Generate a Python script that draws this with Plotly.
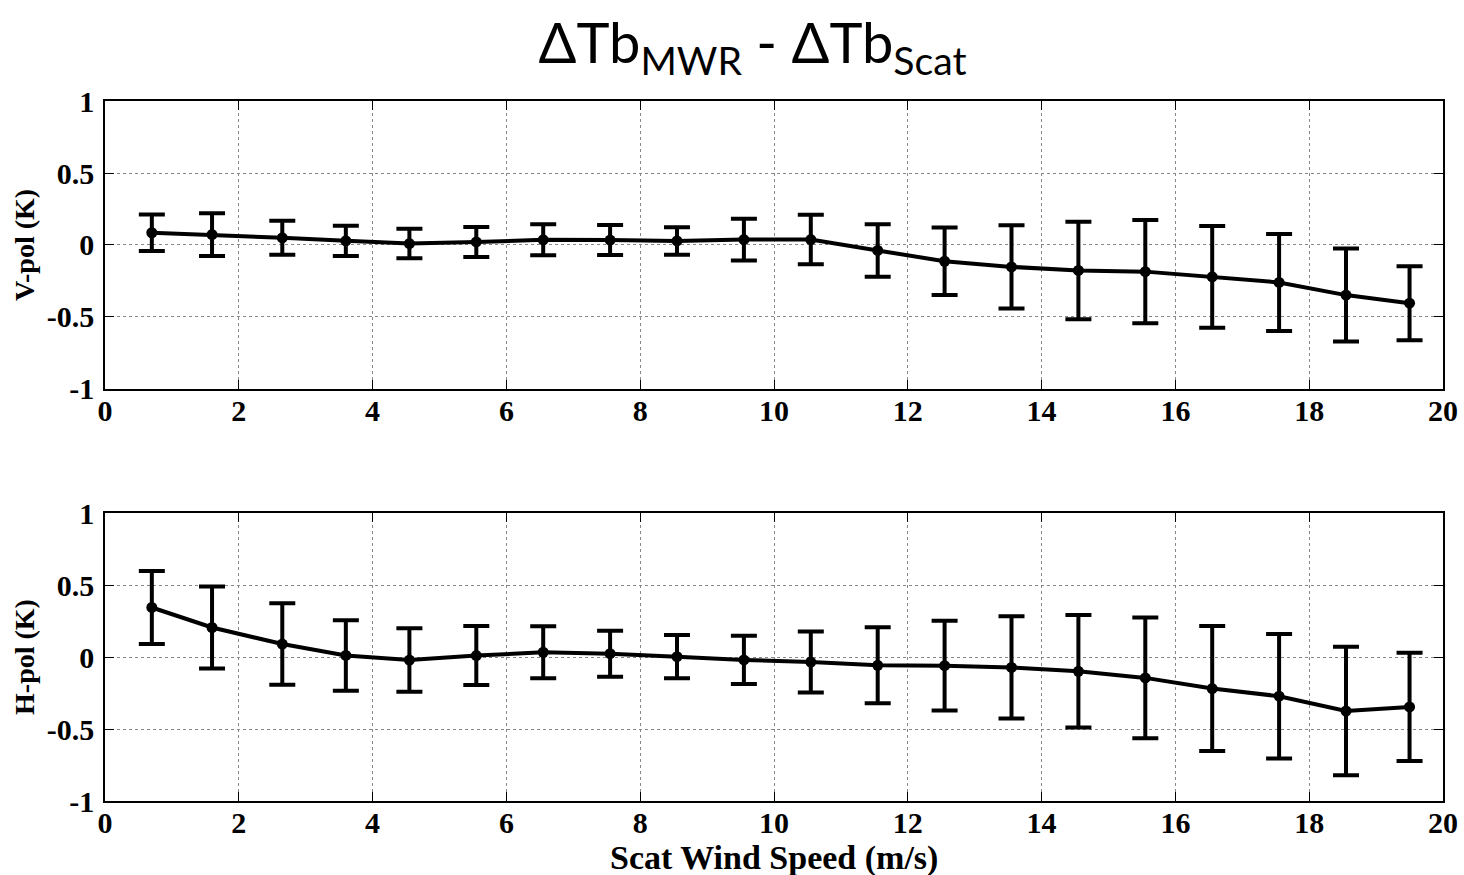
import plotly.graph_objects as go
from plotly.subplots import make_subplots

wind_speed = [0.7, 1.6, 2.65, 3.6, 4.55, 5.55, 6.55, 7.55, 8.55, 9.55,
              10.55, 11.55, 12.55, 13.55, 14.55, 15.55, 16.55, 17.55, 18.55, 19.5]

vpol_mean = [0.085, 0.072, 0.05, 0.029, 0.01, 0.021, 0.036, 0.034, 0.028, 0.038,
             0.038, -0.038, -0.113, -0.152, -0.177, -0.185, -0.221, -0.26, -0.348, -0.404]
vpol_err = [0.127, 0.148, 0.118, 0.105, 0.102, 0.104, 0.108, 0.104, 0.095, 0.145,
            0.172, 0.182, 0.235, 0.289, 0.339, 0.359, 0.353, 0.337, 0.323, 0.257]

hpol_mean = [0.344, 0.205, 0.09, 0.011, -0.021, 0.01, 0.033, 0.023, 0.002, -0.02,
             -0.035, -0.058, -0.06, -0.072, -0.099, -0.145, -0.219, -0.272, -0.375, -0.347]
hpol_err = [0.254, 0.284, 0.283, 0.245, 0.22, 0.205, 0.181, 0.16, 0.15, 0.167,
            0.212, 0.264, 0.312, 0.355, 0.39, 0.42, 0.434, 0.432, 0.446, 0.376]

x_ticks = [0, 2, 4, 6, 8, 10, 12, 14, 16, 18, 20]
y_ticks = [-1, -0.5, 0, 0.5, 1]
y_tick_text = ["-1", "-0.5", "0", "0.5", "1"]

fig = make_subplots(rows=2, cols=1, vertical_spacing=0.1772)

for row, (m, e) in enumerate([(vpol_mean, vpol_err), (hpol_mean, hpol_err)], start=1):
    fig.add_trace(go.Scatter(
        x=wind_speed, y=m, mode="lines+markers",
        line=dict(color="black", width=4),
        marker=dict(color="black", size=11),
        error_y=dict(type="data", array=e, visible=True, color="black",
                     thickness=4, width=13),
        showlegend=False,
    ), row=row, col=1)

tick_font = dict(family="Liberation Serif", size=30, color="black")
title_font = dict(family="Liberation Serif", size=28, color="black")

for row, ytitle in [(1, "<b>V-pol (K)</b>"), (2, "<b>H-pol (K)</b>")]:
    fig.update_xaxes(
        range=[0, 20], tickvals=x_ticks, ticktext=[f"<b>{t}</b>" for t in x_ticks],
        showline=True, linecolor="black", linewidth=1.5, mirror="ticks",
        ticks="inside", ticklen=9, tickcolor="black", tickwidth=1,
        showgrid=True, gridcolor="#888888", griddash="dot", gridwidth=1,
        zeroline=False, tickfont=tick_font, ticklabelstandoff=-6, automargin=False,
        row=row, col=1)
    fig.update_yaxes(
        range=[-1, 1], tickvals=y_ticks, ticktext=[f"<b>{t}</b>" for t in y_tick_text],
        showline=True, linecolor="black", linewidth=1.5, mirror="ticks",
        ticks="inside", ticklen=9, tickcolor="black", tickwidth=1,
        showgrid=True, gridcolor="#888888", griddash="dot", gridwidth=1,
        zeroline=False, tickfont=tick_font, ticklabelstandoff=3, automargin=False,
        title=dict(text=ytitle, font=title_font, standoff=4),
        row=row, col=1)

fig.add_annotation(
    text="<b>Scat Wind Speed (m/s)</b>", xref="paper", yref="paper",
    x=0.5, y=(875 - 74 - 858) / 700, xanchor="center", yanchor="middle",
    showarrow=False, font=dict(family="Liberation Serif", size=34, color="black"))

fig.update_layout(
    width=1464, height=875,
    margin=dict(l=105, r=21, t=101, b=74, autoexpand=False),
    paper_bgcolor="white", plot_bgcolor="white",
    title=dict(text="ΔTb<sub>MWR</sub> - ΔTb<sub>Scat</sub>",
               font=dict(family="Lato", size=56, color="black"),
               x=0.514, xanchor="center", y=0.95, yanchor="middle", automargin=False),
)

fig.write_html("out.html")
